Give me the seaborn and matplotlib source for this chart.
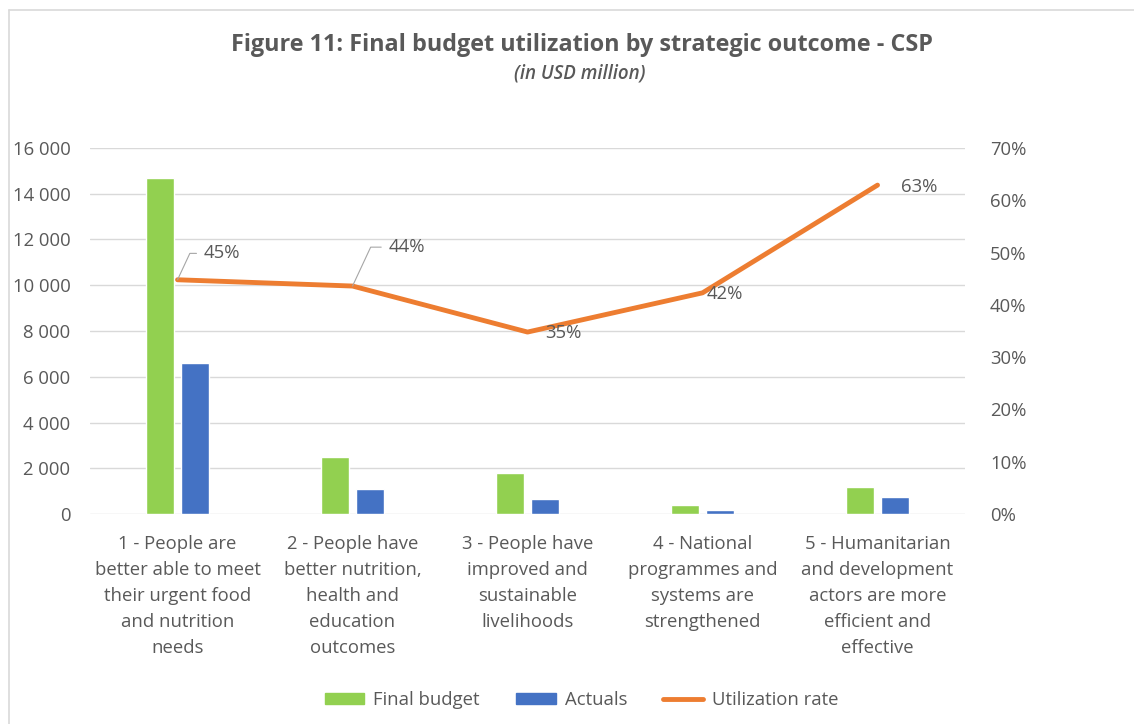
import numpy as np
import pandas as pd
import matplotlib.pyplot as plt
import matplotlib.patches as mpatches
from matplotlib.lines import Line2D
from matplotlib.ticker import FuncFormatter, MultipleLocator
import seaborn as sns

categories = [
    "1 - People are\nbetter able to meet\ntheir urgent food\nand nutrition\nneeds",
    "2 - People have\nbetter nutrition,\nhealth and\neducation\noutcomes",
    "3 - People have\nimproved and\nsustainable\nlivelihoods",
    "4 - National\nprogrammes and\nsystems are\nstrengthened",
    "5 - Humanitarian\nand development\nactors are more\nefficient and\neffective",
]
final_budget = [14700, 2500, 1800, 400, 1200]
actuals = [6600, 1100, 650, 180, 750]
utilization = [0.448, 0.436, 0.348, 0.423, 0.629]
rate_labels = ["45%", "44%", "35%", "42%", "63%"]

green = "#92D050"
blue = "#4472C4"
orange = "#ED7D31"
text_gray = "#595959"

sns.set_theme(style="white")
plt.rcParams['font.family'] = ['Open Sans', 'DejaVu Sans']

df = pd.DataFrame({
    "outcome": categories * 2,
    "series": ["Final budget"] * 5 + ["Actuals"] * 5,
    "value": final_budget + actuals,
})

fig = plt.figure(figsize=(11.34, 7.24), dpi=100)
ax = fig.add_axes([0.0794, 0.290, 0.7716, 0.5056])

sns.barplot(data=df, x="outcome", y="value", hue="series",
            palette=[green, blue], width=0.4, gap=0.2,
            saturation=1, legend=False, ax=ax)

ax.set_ylim(0, 16000)
ax.set_xlim(-0.5, 4.5)
ax.yaxis.set_major_locator(MultipleLocator(2000))
ax.yaxis.set_major_formatter(FuncFormatter(lambda v, p: f"{int(v):,}".replace(",", " ")))
ax.grid(axis="y", color="#D9D9D9", linewidth=1)
ax.set_axisbelow(True)
ax.set_xlabel("")
ax.set_ylabel("")
for s in ax.spines.values():
    s.set_visible(False)
ax.tick_params(axis="y", length=0, pad=14, labelsize=13.3, labelcolor=text_gray)
ax.tick_params(axis="x", length=0, pad=15, labelsize=13.3, labelcolor=text_gray)
for lbl in ax.get_xticklabels():
    lbl.set_linespacing(1.58)
    lbl.set_ha("center")

# utilization rate on secondary axis
ax2 = ax.twinx()
sns.lineplot(x=np.arange(len(categories)), y=utilization, color=orange,
             linewidth=3.5, sort=False, ax=ax2)
ax2.set_ylim(0, 0.7)
ax2.yaxis.set_major_locator(MultipleLocator(0.1))
ax2.yaxis.set_major_formatter(FuncFormatter(lambda v, p: f"{v * 100:.0f}%"))
ax2.tick_params(axis="y", length=0, pad=18, labelsize=13.3, labelcolor=text_gray)
for s in ax2.spines.values():
    s.set_visible(False)
ax2.grid(False)

# data labels
label_offsets = [(19, 19), (26, 28), (13, -1), (3, -1), (17, -1)]
for i, (r, t) in enumerate(zip(utilization, rate_labels)):
    dx, dy = label_offsets[i]
    if i < 2:
        ax2.annotate(t, xy=(i, r), xytext=(dx, dy), textcoords="offset points",
                     fontsize=13.3, color=text_gray, va="center", ha="left",
                     arrowprops=dict(arrowstyle="-", color="#A6A6A6", lw=0.8,
                                     connectionstyle="angle,angleA=0,angleB=65,rad=0",
                                     shrinkA=3, shrinkB=0, relpos=(0, 0.5)))
    else:
        ax2.annotate(t, xy=(i, r), xytext=(dx, dy), textcoords="offset points",
                     fontsize=13.3, color=text_gray, va="center", ha="left")

# titles
fig.text(0.513, 0.938, "Figure 11: Final budget utilization by strategic outcome - CSP",
         ha="center", va="center", fontsize=16.8, fontweight="bold", color=text_gray)
fig.text(0.511, 0.899, "(in USD million)", ha="center", va="center",
         fontsize=13.5, fontstyle="italic", fontweight="semibold", color=text_gray)

# legend
handles = [
    mpatches.Patch(color=green, label="Final budget"),
    mpatches.Patch(color=blue, label="Actuals"),
    Line2D([], [], color=orange, linewidth=3.5, label="Utilization rate"),
]
fig.legend(handles=handles, loc="center", bbox_to_anchor=(0.513, 0.033), ncol=3,
           frameon=False, fontsize=13.3, labelcolor=text_gray, handlelength=2.15,
           handleheight=0.6, columnspacing=1.95, handletextpad=0.5)

# outer border lines
fig.add_artist(Line2D([0.008, 1.0], [0.986, 0.986], color="#D9D9D9", linewidth=1.2))
fig.add_artist(Line2D([0.008, 0.008], [0.0, 0.986], color="#D9D9D9", linewidth=1.2))

fig.savefig("out.png", dpi=100)
